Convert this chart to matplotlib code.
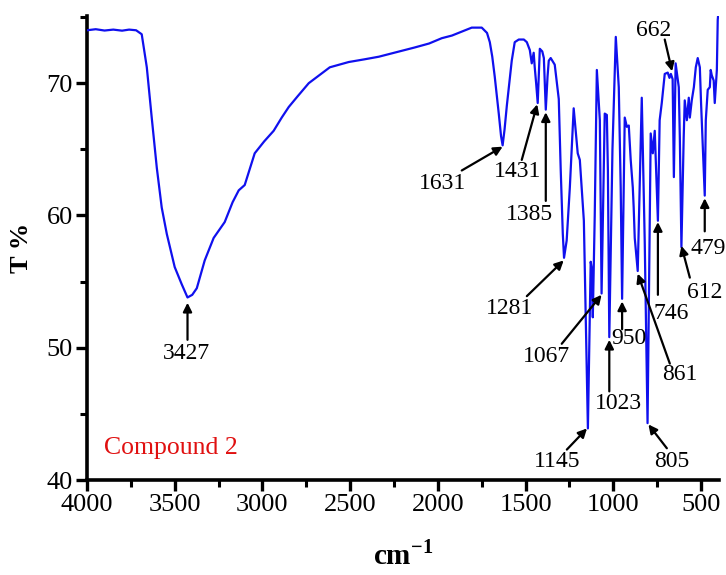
import numpy as np
import matplotlib
matplotlib.use('Agg')
import matplotlib.pyplot as plt
from matplotlib.ticker import MultipleLocator

matplotlib.rc('font', family='serif', serif=['Liberation Serif'], size=19)
plt.rcParams.update({
    'mathtext.fontset': 'custom',
    'mathtext.rm': 'Liberation Serif',
    'mathtext.bf': 'Liberation Serif:bold',
})

# FT-IR spectrum of compound 2
wavenumber = [
    4000, 3950, 3900, 3850, 3800, 3760, 3720, 3688, 3659, 3631, 3602, 3574,
    3545, 3500, 3460, 3427, 3400, 3374, 3329, 3278, 3215, 3170, 3135, 3101,
    3044, 2990, 2936, 2890, 2850, 2800, 2736, 2616, 2508, 2420, 2337, 2250,
    2132, 2050, 1978, 1920, 1864, 1807, 1750, 1720, 1704, 1690, 1676, 1653,
    1640, 1631, 1620, 1607, 1579, 1562, 1539, 1510, 1493, 1476, 1465, 1454,
    1448, 1440, 1431, 1425, 1419, 1405, 1396, 1385, 1375, 1368, 1357, 1334,
    1311, 1300, 1288, 1281, 1266, 1248, 1226, 1203, 1191, 1168, 1155, 1145,
    1129, 1123, 1117, 1106, 1094, 1077, 1067, 1049, 1037, 1031, 1023, 1005,
    986, 969, 958, 950, 935, 923, 912, 901, 889, 884, 878, 861, 850, 838,
    821, 805, 787, 775, 764, 758, 746, 736, 724, 707, 690, 680, 672, 662,
    655, 645, 627, 621, 612, 599, 593, 581, 570, 564, 553, 541, 530, 519,
    507, 500, 479, 473, 462, 450, 445, 439, 428, 422, 410, 405, 400,
]
transmittance = [
    74.0, 74.08, 73.98, 74.05, 73.97, 74.05, 74.0, 73.7, 71.2, 67.4, 63.6, 60.6,
    58.6, 56.1, 54.8, 53.8, 54.0, 54.5, 56.6, 58.3, 59.5, 61.0, 61.9, 62.3,
    64.7, 65.6, 66.4, 67.4, 68.2, 69.0, 70.0, 71.2, 71.6, 71.8, 72.0, 72.3,
    72.7, 73.0, 73.4, 73.6, 73.9, 74.2, 74.2, 73.8, 73.1, 72.0, 70.5, 67.7,
    66.0, 65.3, 66.5, 68.3, 71.7, 73.1, 73.3, 73.3, 73.1, 72.5, 71.5, 72.3,
    71.2, 70.0, 68.5, 70.5, 72.6, 72.4, 71.9, 68.0, 70.5, 71.7, 71.9, 71.4,
    68.8, 63.5, 58.6, 56.8, 58.1, 62.1, 68.1, 64.7, 64.2, 59.6, 50.5, 43.9,
    56.5, 56.0, 52.3, 60.0, 71.0, 67.2, 54.1, 67.7, 67.6, 63.4, 50.8, 65.0,
    73.5, 69.7, 62.1, 53.7, 67.4, 66.7, 66.8, 64.2, 62.1, 60.6, 58.3, 55.8,
    62.0, 68.9, 58.0, 44.3, 66.2, 64.7, 66.4, 64.2, 59.6, 67.2, 68.5, 70.7,
    70.8, 70.4, 70.7, 70.3, 62.9, 71.5, 69.7, 65.9, 57.6, 65.9, 68.7, 67.2,
    68.9, 67.4, 68.7, 69.7, 71.2, 71.9, 71.2, 68.5, 61.5, 67.2, 69.5, 69.7,
    71.0, 70.6, 70.2, 68.5, 71.0, 74.8, 75.5,
]

# labelled bands: label, arrow tip (wavenumber, T)
peak_labels = ['3427', '1631', '1431', '1385', '1281', '1067', '950', '1023',
               '861', '746', '612', '479', '662', '1145', '805']
tip_x = [3427, 1631, 1434, 1385, 1283, 1067, 950, 1023, 861, 746, 612, 479, 665, 1150, 800]
tip_y = [53.4, 65.2, 68.4, 67.8, 56.6, 54.0, 53.5, 50.6, 55.6, 59.5, 57.7, 61.3, 70.9, 43.9, 44.2]

# layout: arrow tail and text centre for each label
tail_pos = [(3427, 50.6), (1864, 63.4), (1522, 64.2), (1385, 61.1), (1493, 53.9),
            (1294, 50.3), (950, 51.4), (1023, 46.7), (678, 48.8), (746, 54.0),
            (564, 55.3), (479, 58.8), (707, 73.3), (1265, 42.3), (695, 42.4)]
text_pos = [(3431, 49.6), (1972, 62.4), (1545, 63.3), (1476, 60.1), (1590, 53.0),
            (1379, 49.3), (912, 50.7), (969, 45.8), (621, 48.0), (673, 52.6),
            (479, 54.2), (462, 57.5), (770, 74.0), (1322, 41.4), (667, 41.4)]


def main():
    fig = plt.figure(figsize=(7.26, 5.75), dpi=100)
    ax = fig.add_axes([0.1198, 0.1652, 0.8705, 0.8070])

    ax.plot(wavenumber, transmittance, color='#1010ee', lw=1.6, zorder=3)

    for lab, tx, ty, tail, tpos in zip(peak_labels, tip_x, tip_y, tail_pos, text_pos):
        ax.annotate('', xy=(tx, ty), xytext=tail,
                    arrowprops=dict(arrowstyle='-|>', color='black', lw=1.6,
                                    mutation_scale=13, shrinkA=0, shrinkB=0),
                    zorder=4)
        ax.text(tpos[0], tpos[1], lab, ha='center', va='center', fontsize=17)

    ax.text(0.027, 0.069, 'Compound 2', color='#e01010', fontsize=18.5,
            transform=ax.transAxes, ha='left', va='center')

    ax.set_xlim(4000, 398)
    ax.set_ylim(40, 75.08)
    ax.xaxis.set_major_locator(MultipleLocator(500))
    ax.xaxis.set_minor_locator(MultipleLocator(250))
    ax.yaxis.set_major_locator(MultipleLocator(10))
    ax.yaxis.set_minor_locator(MultipleLocator(5))

    for side in ['top', 'right']:
        ax.spines[side].set_visible(False)
    for side in ['left', 'bottom']:
        ax.spines[side].set_linewidth(2.6)
    ax.tick_params(which='major', direction='out', length=8, width=2.4, labelsize=19, pad=2)
    ax.tick_params(which='minor', direction='out', length=5, width=2.2)

    ax.set_xlabel(r'cm$^{\mathbf{-1}}$', fontsize=21, fontweight='bold', labelpad=18)
    ax.set_ylabel('T %', fontsize=19, fontweight='bold', labelpad=10)

    fig.savefig('out.png', dpi=100)


if __name__ == "__main__":
    main()
